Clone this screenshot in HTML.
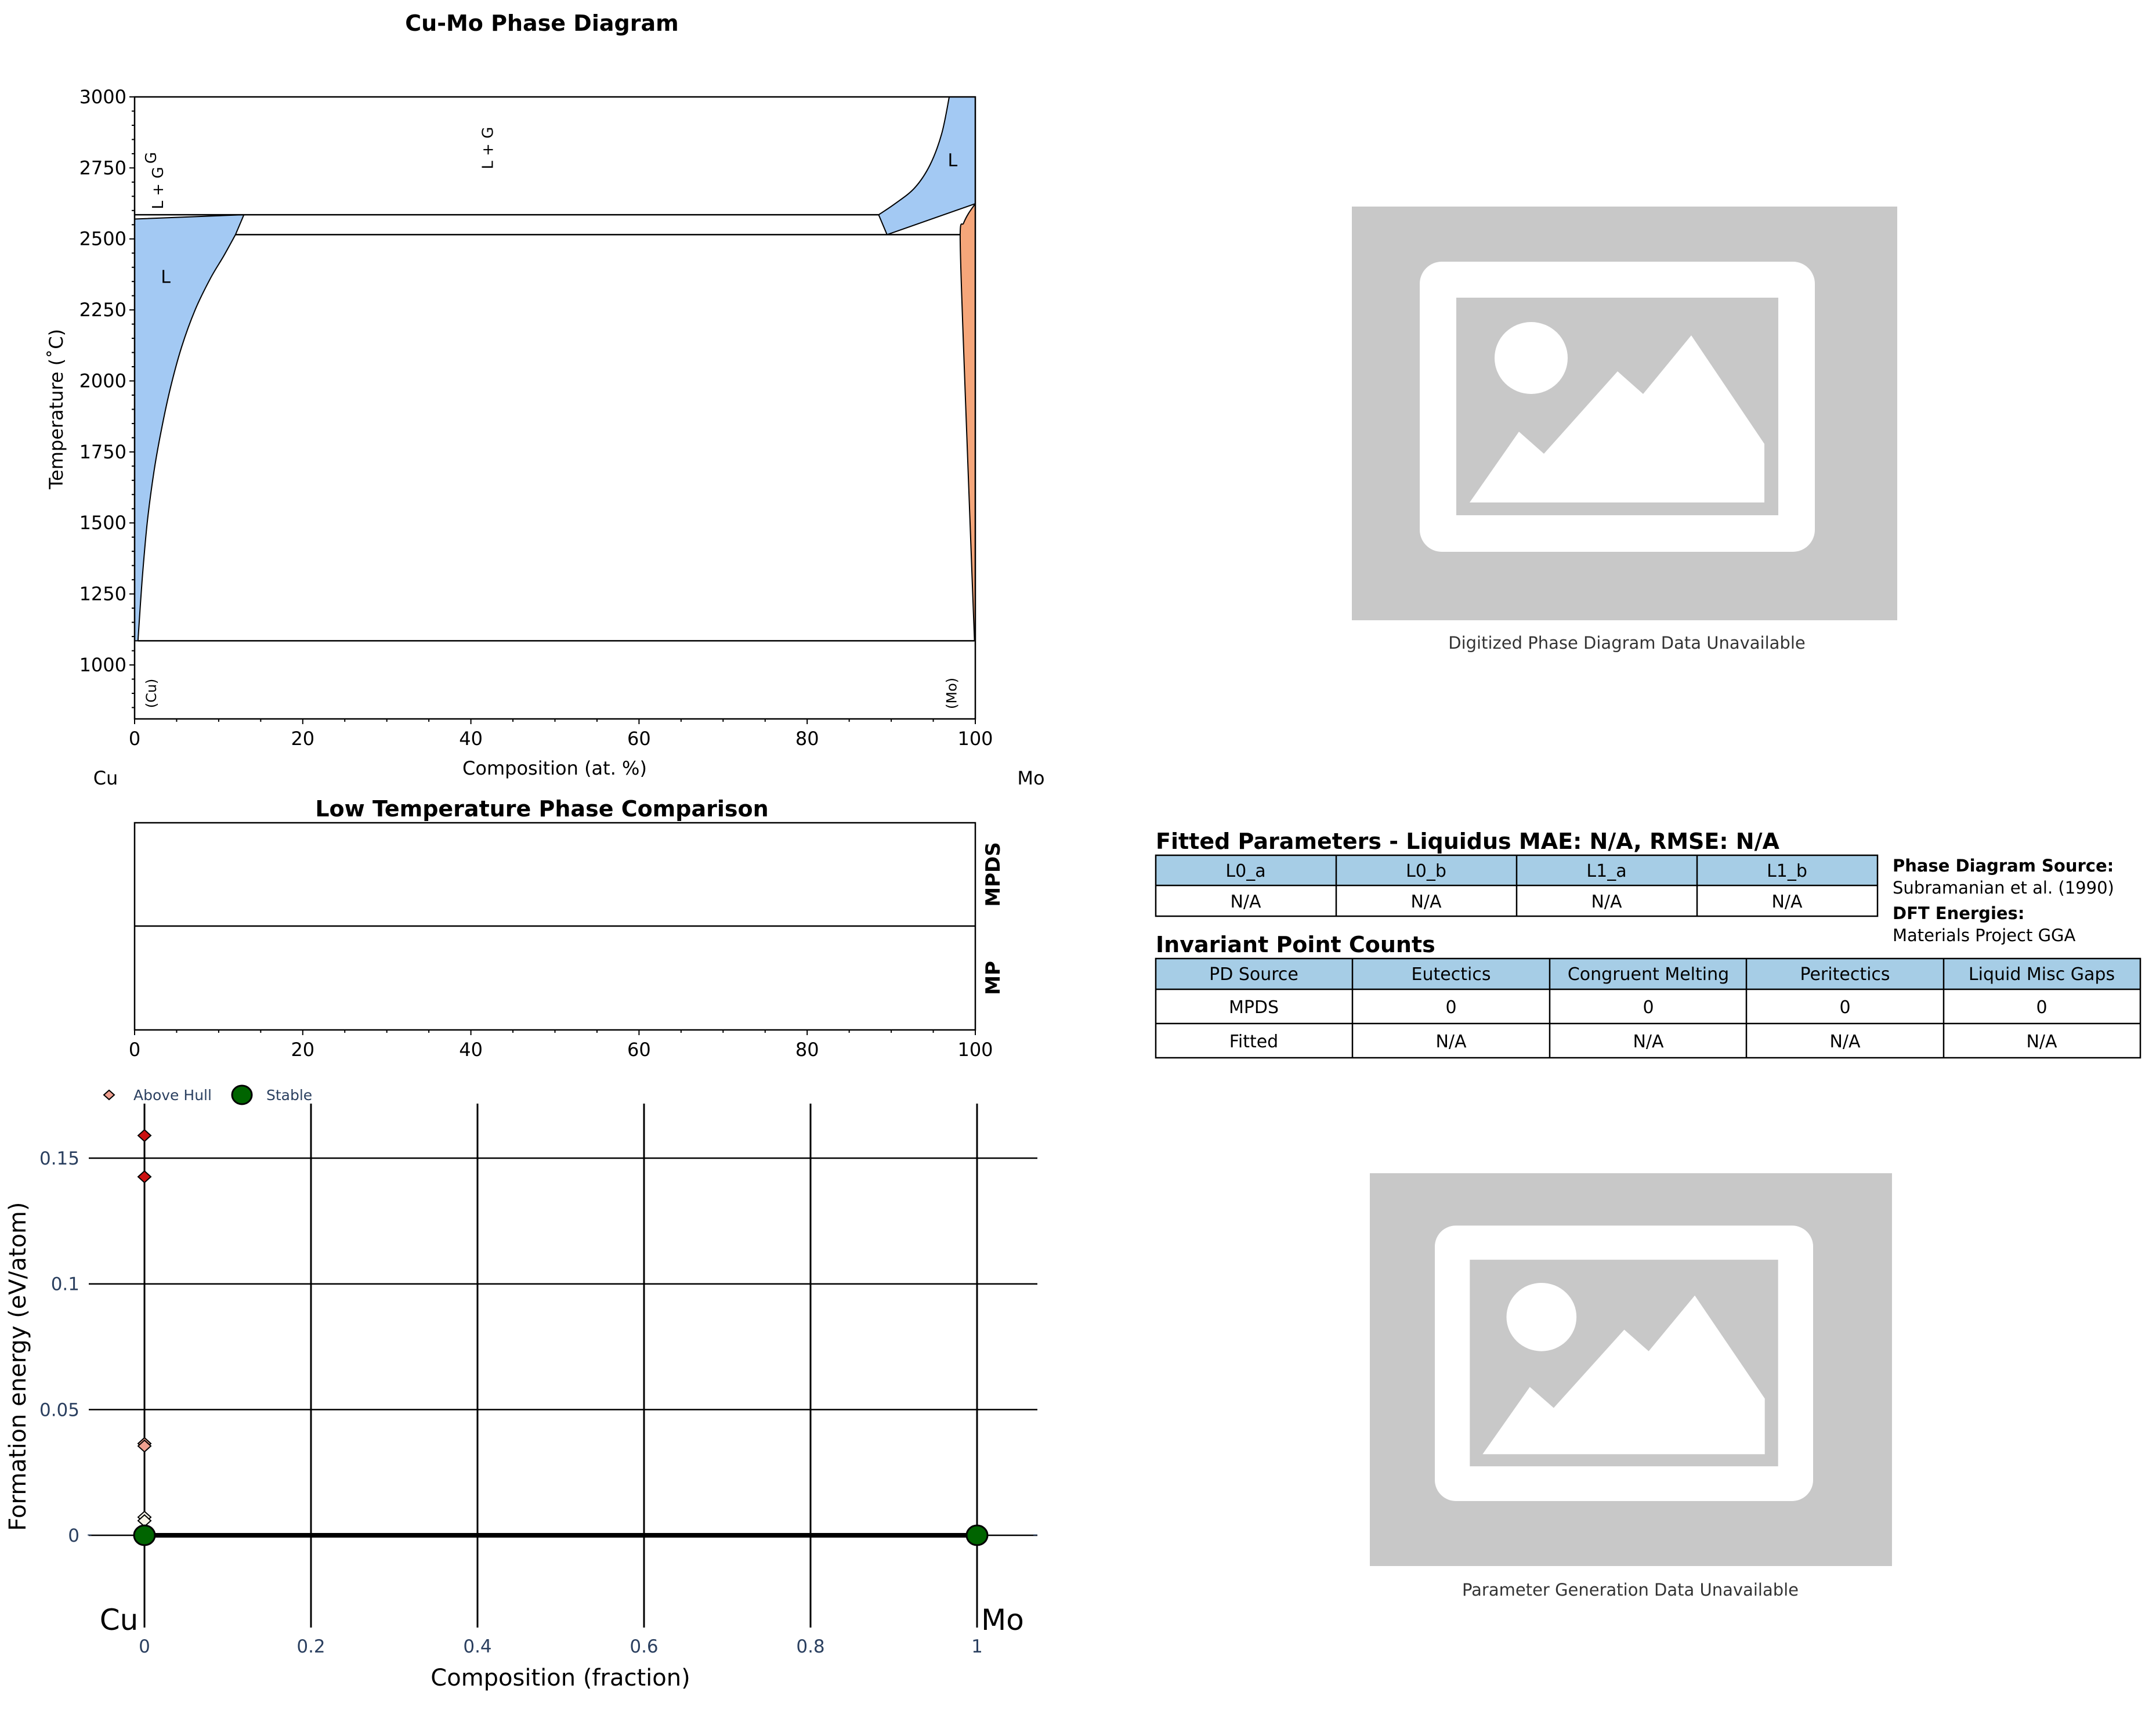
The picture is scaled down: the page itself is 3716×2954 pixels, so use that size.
<!DOCTYPE html>
<html><head><meta charset="utf-8"><style>
html,body{margin:0;padding:0;background:#fff;}
svg{display:block;font-family:"DejaVu Sans","Liberation Sans",sans-serif;}
</style></head><body>
<svg id="root" width="3716" height="2954" viewBox="0 0 3716 2954" xmlns="http://www.w3.org/2000/svg">
<rect x="0" y="0" width="3716" height="2954" fill="#fff"/>
<g id="pd"></g>
<g id="ltc"></g>
<g id="hull"></g>

<g transform="translate(2330,356)">
  <rect x="0" y="0" width="940" height="713" fill="#c8c8c8"/>
  <g>
    <rect x="117" y="95" width="681" height="500" rx="38" fill="#fff"/>
    <rect x="180" y="157" width="555" height="375" fill="#c8c8c8"/>
    <ellipse cx="309" cy="261" rx="63" ry="62" fill="#fff"/>
    <polygon points="203,510 288,388 331,426 458,284 502,323 585,222 711,409 711,510" fill="#fff"/>
  </g>
</g>
<text x="2804" y="1118" font-size="29" text-anchor="middle" fill="#333">Digitized Phase Diagram Data Unavailable</text>

<g transform="translate(2361,2022) scale(0.9574,0.9495)">
  <rect x="0" y="0" width="940" height="713" fill="#c8c8c8"/>
  <g>
    <rect x="117" y="95" width="681" height="500" rx="38" fill="#fff"/>
    <rect x="180" y="157" width="555" height="375" fill="#c8c8c8"/>
    <ellipse cx="309" cy="261" rx="63" ry="62" fill="#fff"/>
    <polygon points="203,510 288,388 331,426 458,284 502,323 585,222 711,409 711,510" fill="#fff"/>
  </g>
</g>
<text x="2810" y="2750" font-size="29" text-anchor="middle" fill="#333">Parameter Generation Data Unavailable</text>

<g font-size="30">
  <text x="1992" y="1463" font-size="38" font-weight="bold">Fitted Parameters - Liquidus MAE: N/A, RMSE: N/A</text>
  <rect x="1992" y="1474" width="1244" height="52" fill="#a6cde6"/>
  <g stroke="#000" stroke-width="2.5" fill="none">
    <rect x="1992" y="1474" width="1244" height="105"/>
    <line x1="1992" y1="1526" x2="3236" y2="1526"/>
    <line x1="2303" y1="1474" x2="2303" y2="1579"/>
    <line x1="2614" y1="1474" x2="2614" y2="1579"/>
    <line x1="2925" y1="1474" x2="2925" y2="1579"/>
  </g>
  <g text-anchor="middle">
    <text x="2147" y="1511">L0_a</text><text x="2458" y="1511">L0_b</text><text x="2769" y="1511">L1_a</text><text x="3080" y="1511">L1_b</text>
    <text x="2147" y="1564">N/A</text><text x="2458" y="1564">N/A</text><text x="2769" y="1564">N/A</text><text x="3080" y="1564">N/A</text>
  </g>
</g>
<g font-size="29">
  <text x="3262" y="1502" font-weight="bold">Phase Diagram Source:</text>
  <text x="3262" y="1540">Subramanian et al. (1990)</text>
  <text x="3262" y="1584" font-weight="bold">DFT Energies:</text>
  <text x="3262" y="1622">Materials Project GGA</text>
</g>
<g font-size="30">
  <text x="1992" y="1641" font-size="38" font-weight="bold">Invariant Point Counts</text>
  <rect x="1992" y="1652" width="1697" height="53" fill="#a6cde6"/>
  <g stroke="#000" stroke-width="2.5" fill="none">
    <rect x="1992" y="1652" width="1697" height="171"/>
    <line x1="1992" y1="1705" x2="3689" y2="1705"/>
    <line x1="1992" y1="1764" x2="3689" y2="1764"/>
    <line x1="2331" y1="1652" x2="2331" y2="1823"/>
    <line x1="2671" y1="1652" x2="2671" y2="1823"/>
    <line x1="3010" y1="1652" x2="3010" y2="1823"/>
    <line x1="3350" y1="1652" x2="3350" y2="1823"/>
  </g>
  <g text-anchor="middle">
    <text x="2161" y="1689">PD Source</text><text x="2501" y="1689">Eutectics</text><text x="2841" y="1689">Congruent Melting</text><text x="3180" y="1689">Peritectics</text><text x="3519" y="1689">Liquid Misc Gaps</text>
    <text x="2161" y="1746">MPDS</text><text x="2501" y="1746">0</text><text x="2841" y="1746">0</text><text x="3180" y="1746">0</text><text x="3519" y="1746">0</text>
    <text x="2161" y="1805">Fitted</text><text x="2501" y="1805">N/A</text><text x="2841" y="1805">N/A</text><text x="3180" y="1805">N/A</text><text x="3519" y="1805">N/A</text>
  </g>
</g>

<script>
// ---------- Phase diagram data ----------
const pdXTicks = [0, 20, 40, 60, 80, 100];
const pdYTicks = [1000, 1250, 1500, 1750, 2000, 2250, 2500, 2750, 3000];
// liquidus (Cu side), from the peritectic corner down to Cu melting point
const liqCuComp = [12, 10.6, 9.0, 7.2, 5.6, 4.3, 3.2, 2.3, 1.5, 0.9, 0.4];
const liqCuTemp = [2515, 2440, 2360, 2250, 2120, 1980, 1830, 1680, 1500, 1300, 1085];
// liquidus (Mo side), from top down to monotectic
const liqMoComp = [96.9, 96.0, 94.6, 92.8, 90.5, 88.5];
const liqMoTemp = [3000, 2870, 2760, 2680, 2625, 2585];
// Mo solidus
const bccMoComp = [100, 99.2, 98.6, 98.2, 98.5, 99.0, 99.5, 99.9];
const bccMoTemp = [2624, 2590, 2555, 2515, 2200, 1800, 1400, 1085];
const isothermTemps = [2585, 2515, 1085];
const isothermFrom = [0, 12, 0.4];
const isothermTo = [88.5, 98.2, 99.9];

const NS = 'http://www.w3.org/2000/svg';
function mk(parent, tag, attrs, text) {
  const e = document.createElementNS(NS, tag);
  for (const k in attrs) e.setAttribute(k, attrs[k]);
  if (text !== undefined) e.textContent = text;
  parent.appendChild(e);
  return e;
}
const PL = 232, PR = 1681, PT = 167, PB = 1239, TMIN = 810, TMAX = 3000;
const X = c => PL + c / 100 * (PR - PL);
const Y = t => PT + (TMAX - t) / (TMAX - TMIN) * (PB - PT);

function smooth(pts) {
  let d = '';
  for (let i = 0; i < pts.length - 1; i++) {
    const p0 = pts[Math.max(0, i - 1)], p1 = pts[i], p2 = pts[i + 1], p3 = pts[Math.min(pts.length - 1, i + 2)];
    const c1 = [p1[0] + (p2[0] - p0[0]) / 6, p1[1] + (p2[1] - p0[1]) / 6];
    const c2 = [p2[0] - (p3[0] - p1[0]) / 6, p2[1] - (p3[1] - p1[1]) / 6];
    d += ' C' + c1[0].toFixed(1) + ',' + c1[1].toFixed(1) + ' ' + c2[0].toFixed(1) + ',' + c2[1].toFixed(1) + ' ' + p2[0].toFixed(1) + ',' + p2[1].toFixed(1);
  }
  return d;
}
const toPts = (cs, ts) => cs.map((c, i) => [X(c), Y(ts[i])]);

const pd = document.getElementById('pd');
function region(d, fill, name) {
  const p = mk(pd, 'path', {d: d, fill: fill, stroke: '#000', 'stroke-width': 2, 'stroke-linejoin': 'round'});
  
  
}
// Cu liquid region
{
  const pts = toPts(liqCuComp, liqCuTemp);
  const d = 'M' + X(0) + ',' + Y(2570) + ' L' + X(13) + ',' + Y(2585) + ' L' + pts[0][0] + ',' + pts[0][1] + smooth(pts) + ' L' + X(0) + ',' + Y(1085) + ' Z';
  region(d, '#a3c9f3', 'liquid-region-cu');
}
// Mo liquid region
{
  const pts = toPts(liqMoComp, liqMoTemp);
  const d = 'M' + pts[0][0] + ',' + pts[0][1] + smooth(pts) + ' L' + X(89.5) + ',' + Y(2515) + ' L' + X(100) + ',' + Y(2624) + ' L' + X(100) + ',' + Y(3000) + ' Z';
  region(d, '#a3c9f3', 'liquid-region-mo');
}
// Mo solid region
{
  const pts = toPts(bccMoComp, bccMoTemp);
  const d = 'M' + pts[0][0] + ',' + pts[0][1] + smooth(pts) + ' L' + X(100) + ',' + Y(1085) + ' Z';
  region(d, '#f5a67a', 'mo-solid-region');
}
isothermTemps.forEach((t, i) => {
  const l = mk(pd, 'line', {x1: X(isothermFrom[i]), y1: Y(t), x2: X(isothermTo[i]), y2: Y(t), stroke: '#000', 'stroke-width': 2.5});
  
  
});
mk(pd, 'rect', {x: PL, y: PT, width: PR - PL, height: PB - PT, fill: 'none', stroke: '#000', 'stroke-width': 2.5});
for (let c = 0; c <= 100; c += 5) {
  const major = c % 20 === 0;
  mk(pd, 'line', {x1: X(c), y1: PB, x2: X(c), y2: PB + (major ? 9 : 5), stroke: '#000', 'stroke-width': 2});
}
pdXTicks.forEach(c => {
  const t = mk(pd, 'text', {x: X(c), y: PB + 45, 'font-size': 32, 'text-anchor': 'middle'}, String(c));
  
  
});
for (let t = 850; t <= 3000; t += 50) {
  const major = t % 250 === 0;
  mk(pd, 'line', {x1: PL, y1: Y(t), x2: PL - (major ? 9 : 5), y2: Y(t), stroke: '#000', 'stroke-width': 2});
}
pdYTicks.forEach(v => {
  const t = mk(pd, 'text', {x: PL - 14, y: Y(v) + 11, 'font-size': 32, 'text-anchor': 'end'}, String(v));
  
  
});
mk(pd, 'text', {x: 934, y: 53, 'font-size': 38, 'font-weight': 'bold', 'text-anchor': 'middle'}, 'Cu-Mo Phase Diagram');
mk(pd, 'text', {x: 956, y: 1335, 'font-size': 32, 'text-anchor': 'middle'}, 'Composition (at. %)');
mk(pd, 'text', {x: 0, y: 0, 'font-size': 32, 'text-anchor': 'middle', transform: 'translate(108,705) rotate(-90)'}, 'Temperature (\u02DAC)');
mk(pd, 'text', {x: 182, y: 1352, 'font-size': 32, 'text-anchor': 'middle'}, 'Cu');
mk(pd, 'text', {x: 1777, y: 1352, 'font-size': 32, 'text-anchor': 'middle'}, 'Mo');
mk(pd, 'text', {x: X(3.7), y: Y(2370) + 12, 'font-size': 30, 'text-anchor': 'middle'}, 'L');
mk(pd, 'text', {x: X(97.3), y: Y(2780) + 12, 'font-size': 30, 'text-anchor': 'middle'}, 'L');
mk(pd, 'text', {x: 0, y: 0, 'font-size': 26, 'text-anchor': 'middle', transform: 'translate(' + (X(42) + 9) + ',' + Y(2820) + ') rotate(-90)'}, 'L + G');
mk(pd, 'text', {x: 0, y: 0, 'font-size': 26, 'text-anchor': 'middle', transform: 'translate(281,324) rotate(-90)'}, 'L + G');
mk(pd, 'text', {x: 0, y: 0, 'font-size': 26, 'text-anchor': 'middle', transform: 'translate(269,272) rotate(-90)'}, 'G');
mk(pd, 'text', {x: 0, y: 0, 'font-size': 24, 'text-anchor': 'middle', transform: 'translate(' + (X(2) + 8) + ',' + Y(900) + ') rotate(-90)'}, '(Cu)');
mk(pd, 'text', {x: 0, y: 0, 'font-size': 24, 'text-anchor': 'middle', transform: 'translate(' + (X(97.2) + 8) + ',' + Y(900) + ') rotate(-90)'}, '(Mo)');

// ---------- Low temperature comparison ----------
const ltcTicks = [0, 20, 40, 60, 80, 100];
const ltcRows = ['MPDS', 'MP'];
const ltc = document.getElementById('ltc');
const LT = 1418, LB = 1775, LM = 1596;
mk(ltc, 'text', {x: 934, y: 1407, 'font-size': 38, 'font-weight': 'bold', 'text-anchor': 'middle'}, 'Low Temperature Phase Comparison');
mk(ltc, 'rect', {x: PL, y: LT, width: PR - PL, height: LB - LT, fill: 'none', stroke: '#000', 'stroke-width': 2.5});
mk(ltc, 'line', {x1: PL, y1: LM, x2: PR, y2: LM, stroke: '#000', 'stroke-width': 2.5});
for (let c = 0; c <= 100; c += 5) {
  const major = c % 20 === 0;
  mk(ltc, 'line', {x1: X(c), y1: LB, x2: X(c), y2: LB + (major ? 9 : 5), stroke: '#000', 'stroke-width': 2});
}
ltcTicks.forEach(c => {
  const t = mk(ltc, 'text', {x: X(c), y: LB + 45, 'font-size': 32, 'text-anchor': 'middle'}, String(c));
  
  
});
ltcRows.forEach((r, i) => {
  const cy = i === 0 ? (LT + LM) / 2 : (LM + LB) / 2;
  const t = mk(ltc, 'text', {x: 0, y: 0, 'font-size': 34, 'font-weight': 'bold', 'text-anchor': 'middle', transform: 'translate(1723,' + cy + ') rotate(-90)'}, r);
  
  
});

// ---------- Convex hull plot ----------
const hullXTicks = [0, 0.2, 0.4, 0.6, 0.8, 1];
const hullXLabels = ['0', '0.2', '0.4', '0.6', '0.8', '1'];
const hullYTicks = [0, 0.05, 0.1, 0.15];
const hullYLabels = ['0', '0.05', '0.1', '0.15'];
const aboveComp = [0, 0, 0, 0, 0, 0];
const aboveEnergy = [0.159, 0.1426, 0.0365, 0.0355, 0.0072, 0.0058];
const aboveColor = ['#cc1111', '#cc1111', '#f0a090', '#f0a090', '#f8f6e8', '#f8f6e8'];
const stableComp = [0, 1];
const stableEnergy = [0, 0];

const hull = document.getElementById('hull');
const HX = f => 249 + f * 1435;
const HY = e => 2646 - e * 4333;
const HT = 1902, HB = 2805, HL = 153, HR = 1788;
hullYTicks.forEach((v, i) => {
  const g = mk(hull, 'line', {x1: HL, y1: HY(v), x2: HR, y2: HY(v), stroke: '#000', 'stroke-width': 2.5});
  
  
  const t = mk(hull, 'text', {x: 137, y: HY(v) + 11, 'font-size': 31, 'text-anchor': 'end', fill: '#2a3f5f'}, hullYLabels[i]);
  
  
});
hullXTicks.forEach((v, i) => {
  const g = mk(hull, 'line', {x1: HX(v), y1: HT, x2: HX(v), y2: HB, stroke: '#000', 'stroke-width': 3});
  
  
  const t = mk(hull, 'text', {x: HX(v), y: 2848, 'font-size': 31, 'text-anchor': 'middle', fill: '#2a3f5f'}, hullXLabels[i]);
  
  
});
const hl = mk(hull, 'line', {x1: HX(stableComp[0]), y1: HY(stableEnergy[0]), x2: HX(stableComp[1]), y2: HY(stableEnergy[1]), stroke: '#000', 'stroke-width': 8});


aboveComp.forEach((c, i) => {
  const x = HX(c), y = HY(aboveEnergy[i]);
  const d = mk(hull, 'polygon', {points: (x - 11) + ',' + y + ' ' + x + ',' + (y - 10) + ' ' + (x + 11) + ',' + y + ' ' + x + ',' + (y + 10), fill: aboveColor[i], stroke: '#000', 'stroke-width': 2});
  
  
});
stableComp.forEach((c, i) => {
  const e = mk(hull, 'ellipse', {cx: HX(c), cy: HY(stableEnergy[i]), rx: 18, ry: 17, fill: '#006400', stroke: '#000', 'stroke-width': 3});
  
  
});
mk(hull, 'text', {x: 150, y: HY(0) + 6, 'font-size': 24, fill: '#2a3f5f'}, '-');
mk(hull, 'text', {x: 1780, y: HY(0) + 6, 'font-size': 24, fill: '#2a3f5f'}, '-');
mk(hull, 'text', {x: 205, y: 2809, 'font-size': 50, 'text-anchor': 'middle'}, 'Cu');
mk(hull, 'text', {x: 1728, y: 2809, 'font-size': 50, 'text-anchor': 'middle'}, 'Mo');
mk(hull, 'text', {x: 966, y: 2905, 'font-size': 40, 'text-anchor': 'middle'}, 'Composition (fraction)');
mk(hull, 'text', {x: 0, y: 0, 'font-size': 40, 'text-anchor': 'middle', transform: 'translate(44,2355) rotate(-90)'}, 'Formation energy (eV/atom)');
const lg = mk(hull, 'g', {});


const le1 = mk(lg, 'polygon', {points: '179,1887 188,1879 197,1887 188,1895', fill: '#f0a090', stroke: '#000', 'stroke-width': 2});


mk(lg, 'text', {x: 230, y: 1896, 'font-size': 25, fill: '#2a3f5f'}, 'Above Hull');
const le2 = mk(lg, 'ellipse', {cx: 417, cy: 1887, rx: 17, ry: 16, fill: '#006400', stroke: '#000', 'stroke-width': 3});


mk(lg, 'text', {x: 459, y: 1896, 'font-size': 25, fill: '#2a3f5f'}, 'Stable');
</script>
</svg>
</body></html>
